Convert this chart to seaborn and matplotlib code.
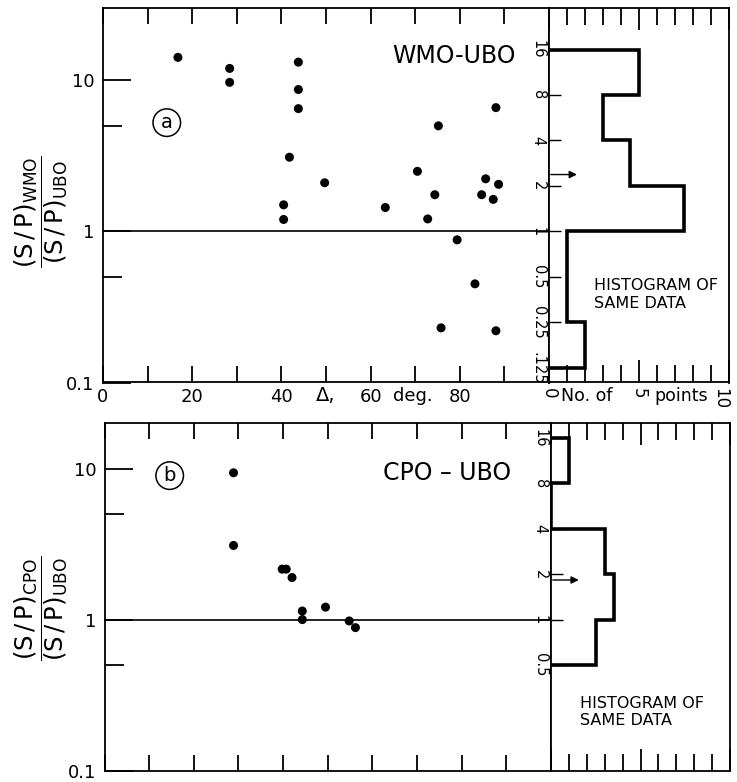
import matplotlib
matplotlib.use("Agg")
import matplotlib.pyplot as plt
import seaborn as sns
import pandas as pd
from matplotlib.ticker import FixedLocator, FixedFormatter, NullFormatter, NullLocator

# ---------------- data ----------------
wmo_delta = [16.8, 28.4, 28.4, 43.8, 43.8, 43.8, 41.8, 49.7, 40.5, 40.5,
             88.1, 75.2, 70.5, 85.8, 88.7, 74.4, 84.9, 87.5, 63.3, 72.8,
             79.4, 83.4, 75.8, 88.1]
wmo_ratio = [14.2, 12.0, 9.7, 13.2, 8.7, 6.5, 3.1, 2.1, 1.5, 1.2,
             6.6, 5.0, 2.5, 2.23, 2.05, 1.75, 1.75, 1.63, 1.44, 1.21,
             0.88, 0.45, 0.23, 0.22]
cpo_delta = [28.9, 28.9, 39.8, 40.7, 42.0, 44.3, 44.3, 49.5, 54.8, 56.2]
cpo_ratio = [9.4, 3.1, 2.16, 2.16, 1.9, 1.14, 1.0, 1.21, 0.98, 0.885]

wmo_hist_edges = [0.125, 0.25, 0.5, 1, 2, 4, 8, 16]
wmo_hist_counts = [2, 1, 1, 7.5, 4.5, 3, 5]
cpo_hist_edges = [0.5, 1, 2, 4, 8, 16]
cpo_hist_counts = [2.5, 3.5, 3, 0, 1]
wmo_mean = 2.38
cpo_mean = 1.83

x_tick_major = [0, 20, 40, 60, 80]
x_tick_minor = [10, 30, 50, 70, 90]
y_tick_major = [0.1, 1, 10]
y_tick_labels = ["0.1", "1", "10"]
y_tick_minor = [0.5, 5]
wmo_hist_tick_labels = [".125", "0.25", "0.5", "1", "2", "4", "8", "16"]
cpo_hist_tick_labels = ["0.5", "1", "2", "4", "8", "16"]

wmo_df = pd.DataFrame({"delta": wmo_delta, "ratio": wmo_ratio})
cpo_df = pd.DataFrame({"delta": cpo_delta, "ratio": cpo_ratio})

# ---------------- style ----------------
sns.set_theme(style="white")
plt.rcParams["font.family"] = ["DejaVu Sans"]
plt.rcParams["axes.edgecolor"] = "black"
plt.rcParams["axes.linewidth"] = 1.3
plt.rcParams["text.color"] = "black"
plt.rcParams["xtick.color"] = "black"
plt.rcParams["ytick.color"] = "black"
plt.rcParams["mathtext.fontset"] = "dejavusans"

W, H = 737, 782
fig = plt.figure(figsize=(W / 100, H / 100), dpi=100)


def fr(left, right, top, bottom):
    return [left / W, (H - bottom) / H, (right - left) / W, (bottom - top) / H]


ax_a = fig.add_axes(fr(103, 549, 8.3, 382.5))
ax_ah = fig.add_axes(fr(549, 729, 8.3, 382.5))
ax_b = fig.add_axes(fr(104.5, 551, 423.3, 770.5))
ax_bh = fig.add_axes(fr(551, 730, 423.3, 770.5))

LW_TICK = 1.3


def style_scatter(ax, df, ylim, labels_bottom):
    sns.scatterplot(data=df, x="delta", y="ratio", ax=ax, color="black",
                    s=42, edgecolor="none", legend=False, zorder=3)
    ax.set_yscale("log")
    ax.set_xlim(0, 100)
    ax.set_ylim(*ylim)
    ax.axhline(1, color="black", lw=1.2, zorder=2)
    ax.set_xlabel("")
    ax.set_ylabel("")
    ax.xaxis.set_major_locator(FixedLocator(x_tick_major))
    ax.xaxis.set_minor_locator(FixedLocator(x_tick_minor))
    if labels_bottom:
        ax.xaxis.set_major_formatter(FixedFormatter([str(v) for v in x_tick_major]))
    else:
        ax.xaxis.set_major_formatter(NullFormatter())
    ax.xaxis.set_minor_formatter(NullFormatter())
    ax.tick_params(axis="x", which="both", direction="in", top=True, bottom=True,
                   length=11.5, width=LW_TICK, labelsize=13, pad=4)
    ax.yaxis.set_major_locator(FixedLocator(y_tick_major))
    ax.yaxis.set_major_formatter(FixedFormatter(y_tick_labels))
    ax.yaxis.set_minor_locator(FixedLocator(y_tick_minor))
    ax.yaxis.set_minor_formatter(NullFormatter())
    ax.tick_params(axis="y", which="major", direction="in", left=True, right=False,
                   length=20, width=LW_TICK, labelsize=13, pad=6)
    ax.tick_params(axis="y", which="minor", direction="in", left=True, right=False,
                   length=13.5, width=LW_TICK)
    for s in ax.spines.values():
        s.set_visible(True)


def style_hist(ax, edges, counts, labels, ylim, mean, labels_bottom):
    ax.stairs(counts, edges, orientation="horizontal", baseline=0,
              color="black", lw=2.6, zorder=3)
    ax.set_yscale("log")
    ax.set_ylim(*ylim)
    ax.set_xlim(0, 10)
    ax.yaxis.set_major_locator(FixedLocator(edges))
    ax.yaxis.set_major_formatter(FixedFormatter(labels))
    ax.yaxis.set_minor_locator(NullLocator())
    ax.tick_params(axis="y", which="major", direction="in", left=True, right=False,
                   length=8.6, width=1.0, labelsize=10.5, pad=2.5,
                   labelrotation=-90)
    for lab in ax.get_yticklabels():
        lab.set_va("center")
    ax.xaxis.set_major_locator(FixedLocator([0, 5, 10]))
    ax.xaxis.set_minor_locator(FixedLocator([1, 2, 3, 4, 6, 7, 8, 9]))
    if labels_bottom:
        ax.xaxis.set_major_formatter(FixedFormatter(["0", "5", "10"]))
    else:
        ax.xaxis.set_major_formatter(NullFormatter())
    ax.xaxis.set_minor_formatter(NullFormatter())
    ax.tick_params(axis="x", which="major", direction="in", top=True, bottom=True,
                   length=15.5, width=LW_TICK, labelsize=12, pad=4,
                   labelrotation=-90)
    ax.tick_params(axis="x", which="minor", direction="in", top=True, bottom=True,
                   length=12, width=LW_TICK)
    if labels_bottom:
        ax.get_xticklabels()[-1].set_ha("right")
    ax.annotate("", xy=(1.55, mean), xytext=(0.1, mean),
                arrowprops=dict(arrowstyle="-|>", lw=1.0, color="black",
                                mutation_scale=11, shrinkA=0, shrinkB=0))
    for s in ax.spines.values():
        s.set_visible(True)


style_scatter(ax_a, wmo_df, (0.1, 30), True)
style_hist(ax_ah, wmo_hist_edges, wmo_hist_counts, wmo_hist_tick_labels,
           (0.1, 30), wmo_mean, True)
style_scatter(ax_b, cpo_df, (0.1, 20), False)
style_hist(ax_bh, cpo_hist_edges, cpo_hist_counts, cpo_hist_tick_labels,
           (0.1, 20), cpo_mean, False)

# axis label pieces between panels
xt = ax_a.get_xaxis_transform()
ax_a.text(50, -0.036, "Δ,", transform=xt, ha="center", va="center", fontsize=14)
ax_a.text(69.5, -0.036, "deg.", transform=xt, ha="center", va="center", fontsize=13)
ax_ah.text(0.21, -0.036, "No. of", transform=ax_ah.transAxes, ha="center",
           va="center", fontsize=12.5)
ax_ah.text(0.735, -0.036, "points", transform=ax_ah.transAxes, ha="center",
           va="center", fontsize=12.5)

# titles inside panels
ax_a.text(78.6, 14.6, "WMO-UBO", ha="center", va="center", fontsize=17)
ax_b.text(76.8, 9.4, "CPO – UBO", ha="center", va="center", fontsize=17)

# circled panel letters
circ = dict(boxstyle="circle,pad=0.22", fc="white", ec="black", lw=1.1)
ax_a.text(14.3, 5.25, "a", ha="center", va="center", fontsize=14, bbox=circ)
ax_b.text(14.6, 9.0, "b", ha="center", va="center", fontsize=14, bbox=circ)

# histogram notes
ax_ah.text(2.5, 0.383, "HISTOGRAM OF\nSAME DATA", ha="left", va="center",
           fontsize=11.5)
ax_bh.text(1.6, 0.245, "HISTOGRAM OF\nSAME DATA", ha="left", va="center",
           fontsize=11.5)

# y-axis labels (fractions)
fig.text(41 / W, (H - 212) / H,
         r"$\dfrac{\mathrm{(S\,/\,P)}_{\mathrm{WMO}}}{\mathrm{(S\,/\,P)}_{\mathrm{UBO}}}$",
         rotation=90, ha="center", va="center", fontsize=17.5)
fig.text(41 / W, (H - 608) / H,
         r"$\dfrac{\mathrm{(S\,/\,P)}_{\mathrm{CPO}}}{\mathrm{(S\,/\,P)}_{\mathrm{UBO}}}$",
         rotation=90, ha="center", va="center", fontsize=17.5)

fig.savefig("out.png", dpi=100)
